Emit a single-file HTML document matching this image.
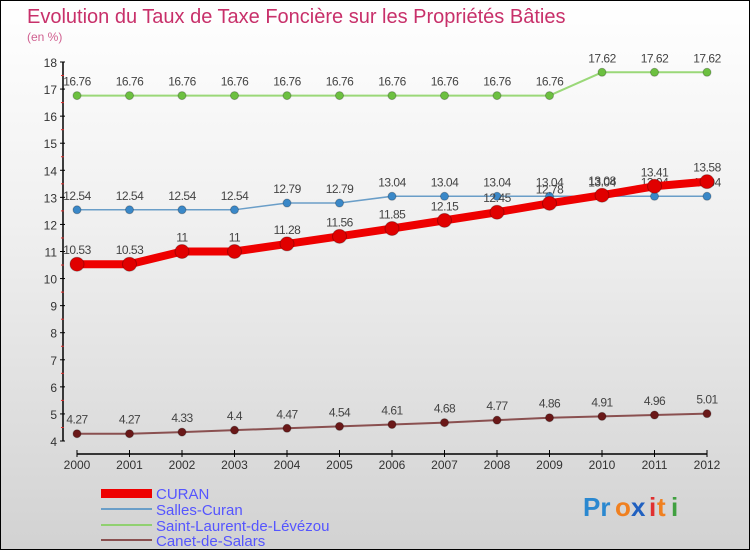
<!DOCTYPE html>
<html><head><meta charset="utf-8"><style>
body{margin:0}
#c{width:750px;height:550px;position:relative;overflow:hidden;box-sizing:border-box;border:1px solid #000;background:linear-gradient(#fff 0%,#f0f0f0 40%,#d2d2d2 100%);font-family:"Liberation Sans",sans-serif}
svg text{font-family:"Liberation Sans",sans-serif}
</style></head><body>
<div id="c">
<svg width="750" height="550" id="s">
<text x="26" y="22" font-size="20" fill="#c8306a">Evolution du Taux de Taxe Foncière sur les Propriétés Bâties</text>
<text x="26" y="40" font-size="12" fill="#d06090">(en %)</text>
<g id="axes"></g><g id="series"></g>
<g>
<rect x="100" y="488" width="51" height="9" fill="#ee0000"/>
<line x1="100" y1="508" x2="151" y2="508" stroke="#6a9ec8" stroke-width="2"/>
<line x1="100" y1="524" x2="151" y2="524" stroke="#90d070" stroke-width="2"/>
<line x1="100" y1="539" x2="151" y2="539" stroke="#8a5050" stroke-width="2"/>
<text x="155" y="498" font-size="15" fill="#5555ff">CURAN</text>
<text x="155" y="514" font-size="15" fill="#5555ff">Salles-Curan</text>
<text x="155" y="530" font-size="15" fill="#5555ff">Saint-Laurent-de-Lévézou</text>
<text x="155" y="545" font-size="15" fill="#5555ff">Canet-de-Salars</text>
</g>
<g font-size="26" font-weight="bold">
<text x="582" y="515" fill="#2a88d0">Pr</text><text x="614" y="515" fill="#f08020">o</text><text x="630" y="515" fill="#2060c0">x</text><text x="648" y="515" fill="#e03030">i</text><text x="656" y="515" fill="#f08020">t</text><text x="670" y="515" fill="#40a040">i</text>
</g>
</svg></div>
<script>
const years=[2000,2001,2002,2003,2004,2005,2006,2007,2008,2009,2010,2011,2012];
const curan=[10.53,10.53,11,11,11.28,11.56,11.85,12.15,12.45,12.78,13.08,13.41,13.58];
const salles=[12.54,12.54,12.54,12.54,12.79,12.79,13.04,13.04,13.04,13.04,13.04,13.04,13.04];
const stLaurent=[16.76,16.76,16.76,16.76,16.76,16.76,16.76,16.76,16.76,16.76,17.62,17.62,17.62];
const canet=[4.27,4.27,4.33,4.4,4.47,4.54,4.61,4.68,4.77,4.86,4.91,4.96,5.01];
const yTicks=[4,5,6,7,8,9,10,11,12,13,14,15,16,17,18];
const NS="http://www.w3.org/2000/svg";
const X=i=>76+i*52.5;
const Y=v=>440-(v-4)*(379/14);
function mk(t,a,p){const e=document.createElementNS(NS,t);for(const k in a)e.setAttribute(k,a[k]);p.appendChild(e);return e;}
const ax=document.getElementById('axes');
const yl=mk('line',{x1:62,y1:Y(18),x2:62,y2:440,stroke:'#000','stroke-width':1.5},ax);


const xl=mk('line',{x1:X(0),y1:453,x2:X(12),y2:453,stroke:'#000','stroke-width':1.5},ax);


yTicks.forEach(v=>{
  mk('line',{x1:59,y1:Y(v),x2:64,y2:Y(v),stroke:'#000'},ax);
  if(v<18) mk('line',{x1:60,y1:Y(v+0.5),x2:63,y2:Y(v+0.5),stroke:'#e03030'},ax);
  const t=mk('text',{x:56,y:Y(v)+5,'font-size':12,fill:'#333','text-anchor':'end'},ax);t.textContent=v;
  
  
});
years.forEach((yr,i)=>{
  mk('line',{x1:X(i),y1:449,x2:X(i),y2:456,stroke:'#000'},ax);
  const t=mk('text',{x:X(i),y:468,'font-size':12,fill:'#333','text-anchor':'middle'},ax);t.textContent=yr;
  
  
});
const sg=document.getElementById('series');
function draw(vals,color,lw,r,name,dot){
  const g=mk('g',{},sg);
  
  
  mk('polyline',{points:vals.map((v,i)=>X(i)+','+Y(v)).join(' '),fill:'none',stroke:color,'stroke-width':lw,'stroke-linejoin':'round'},g);
  vals.forEach((v,i)=>{
    const c=mk('circle',{cx:X(i),cy:Y(v),r:r,fill:dot,stroke:'rgba(0,0,0,0.25)'},g);
    
    
    const t=mk('text',{x:X(i),y:Y(v)-10,'font-size':12,fill:'#444','text-anchor':'middle','letter-spacing':'-0.5'},g);t.textContent=v;
    
    
  });
}
draw(stLaurent,'#9ad878',2,4,'series-saint-laurent','#6cc040');
draw(salles,'#6a9ec8',1.5,4,'series-salles-curan','#3a88c8');
draw(canet,'#8a5050',2,4,'series-canet','#6a1818');
draw(curan,'#ee0000',8,7,'series-curan','#e00000');
</script>
</body></html>
